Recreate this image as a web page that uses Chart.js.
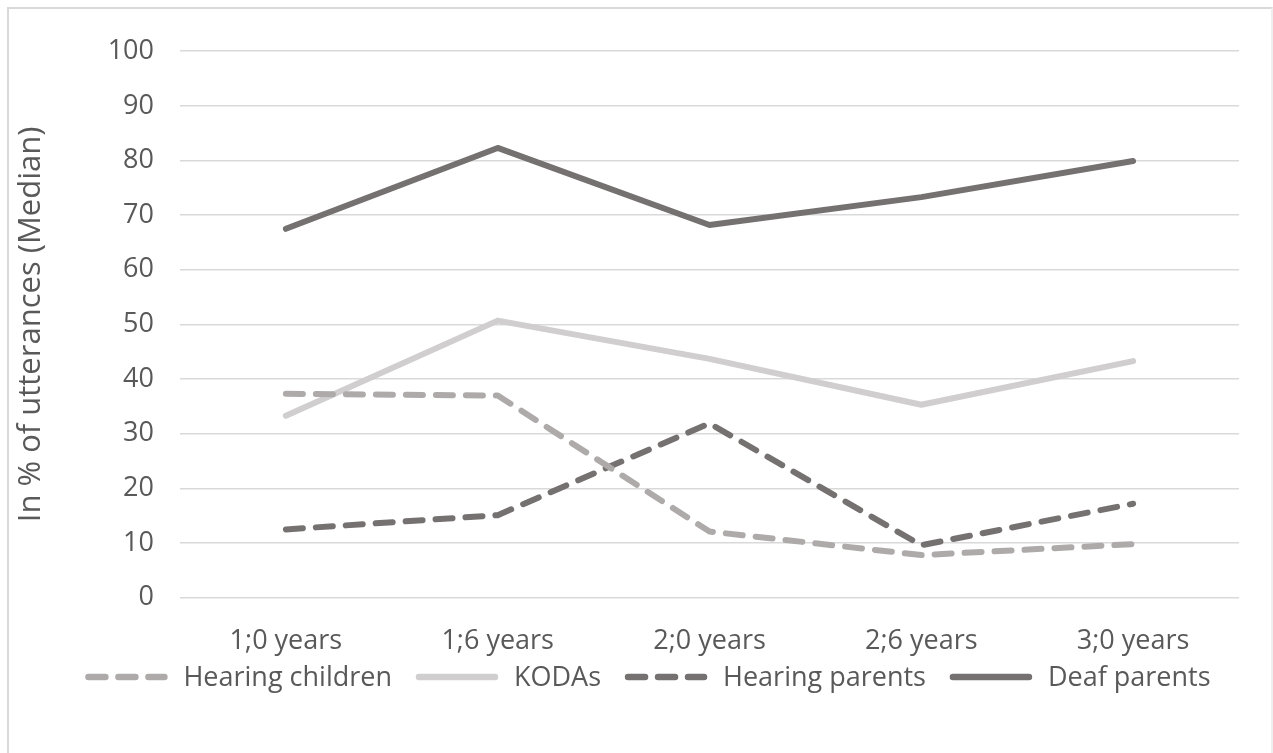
<!DOCTYPE html>
<html>
<head>
<meta charset="utf-8">
<script src="https://cdn.jsdelivr.net/npm/chart.js@4/dist/chart.umd.min.js"></script>
<style>
  html, body { margin: 0; padding: 0; background: #fff; overflow: hidden; }
  #wrap { position: absolute; left: 7px; top: 7px; width: 1266px; height: 760px;
          border: 2px solid #d9d9d9; border-right-color: #efefef; box-sizing: border-box; }
  #c { position: absolute; left: 0; top: 0; }
</style>
</head>
<body>
<div id="wrap"><canvas id="c" width="1255" height="735"></canvas></div>
<script>
// 数据
const ageLabels = ['1;0 years', '1;6 years', '2;0 years', '2;6 years', '3;0 years'];
const hearingChildren = [37.3, 37.0, 12.1, 7.8, 9.8];
const kodas = [33.3, 50.7, 43.7, 35.3, 43.3];
const hearingParents = [12.5, 15.1, 31.9, 9.6, 17.2];
const deafParents = [67.5, 82.3, 68.2, 73.3, 79.9];

const textColor = '#595959';
const fontFamily = "'Open Sans', 'Noto Sans', sans-serif";
const dashPattern = [17, 13];

function lineSet(label, data, color, dashed) {
    return {
        label: label,
        data: data,
        borderColor: color,
        backgroundColor: color,
        borderWidth: 6,
        borderDash: dashed ? dashPattern : [],
        borderCapStyle: 'round',
        borderJoinStyle: 'round',
        pointRadius: 0,
        tension: 0,
        fill: false
    };
}

/* 自定义图例：线段样本 + 文字，居中排在底部 */
const bottomLegend = {
    id: 'bottomLegend',
    afterDraw(chart) {
        const ctx = chart.ctx;
        const y = 668;
        const sampleW = 82, textGap = 16, itemGap = 24;
        ctx.save();
        ctx.font = '27px ' + fontFamily;
        ctx.textBaseline = 'middle';
        const items = chart.data.datasets.map(ds => ({
            ds: ds, w: sampleW + textGap + ctx.measureText(ds.label).width
        }));
        const total = items.reduce((s, it) => s + it.w, 0) + itemGap * (items.length - 1);
        let x = 639 - total / 2;
        items.forEach(it => {
            ctx.strokeStyle = it.ds.borderColor;
            ctx.lineWidth = 6.5;
            ctx.lineCap = 'round';
            ctx.setLineDash(it.ds.borderDash);
            ctx.beginPath();
            ctx.moveTo(x + 3, y);
            ctx.lineTo(x + sampleW - 3, y);
            ctx.stroke();
            ctx.setLineDash([]);
            ctx.fillStyle = textColor;
            ctx.fillText(it.ds.label, x + sampleW + textGap, y + 1);
            x += it.w + itemGap;
        });
        ctx.restore();
    }
};

new Chart(document.getElementById('c'), {
    type: 'line',
    data: {
        labels: ageLabels,
        datasets: [
            lineSet('Hearing children', hearingChildren, '#aeaaaa', true),
            lineSet('KODAs', kodas, '#d0cece', false),
            lineSet('Hearing parents', hearingParents, '#767171', true),
            lineSet('Deaf parents', deafParents, '#767171', false)
        ]
    },
    options: {
        responsive: false,
        animation: false,
        layout: { padding: { left: 0, right: 25, top: 37.7, bottom: 86.3 } },
        plugins: {
            tooltip: { enabled: false },
            legend: { display: false }
        },
        scales: {
            x: {
                offset: true,
                grid: { display: false, drawTicks: false },
                border: { display: false },
                ticks: { color: textColor, padding: 27, font: { family: fontFamily, size: 27 } },
                afterFit: (scale) => { scale.height = 60; }
            },
            y: {
                min: 0,
                max: 100,
                grid: { color: '#d9d9d9', lineWidth: 1.5, drawTicks: false },
                border: { display: false },
                ticks: { stepSize: 10, color: textColor, padding: 26, font: { family: fontFamily, size: 27 } },
                title: {
                    display: true,
                    text: 'In % of utterances (Median)',
                    color: textColor,
                    padding: { bottom: 8 },
                    font: { family: fontFamily, size: 31 }
                },
                afterFit: (scale) => { scale.width = 171; }
            }
        }
    },
    plugins: [bottomLegend]
});
</script>
</body>
</html>
